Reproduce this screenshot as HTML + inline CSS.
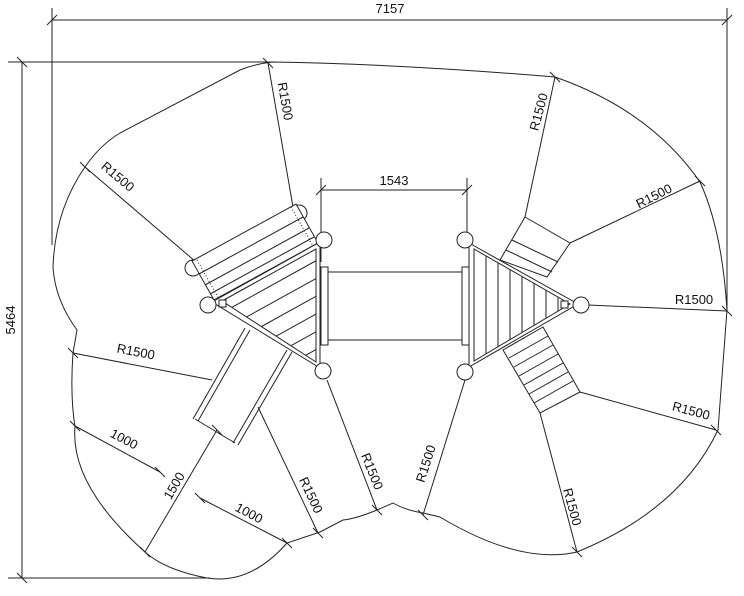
<!DOCTYPE html>
<html><head><meta charset="utf-8"><style>
html,body{margin:0;padding:0;background:#fff}
svg{display:block}
text{font-family:"Liberation Sans",sans-serif;font-size:13px;fill:#111}
</style></head><body>
<svg width="744" height="596" viewBox="0 0 744 596" xmlns="http://www.w3.org/2000/svg">
<defs>
<clipPath id="lt"><polygon points="222,301 316,249 316,362"/></clipPath>
<clipPath id="rt"><polygon points="474,249 570,304 474,361"/></clipPath>
</defs>
<g fill="none" stroke="#222" stroke-width="1">
<!-- overall dims -->
<line x1="52" y1="20" x2="727" y2="20"/>
<line x1="52" y1="8" x2="52" y2="245"/>
<line x1="727" y1="8" x2="727" y2="312"/>
<line x1="47" y1="25" x2="57" y2="15"/><line x1="722" y1="25" x2="732" y2="15"/>
<line x1="22" y1="62" x2="22" y2="578"/>
<line x1="8" y1="62" x2="272" y2="62"/>
<line x1="8" y1="578" x2="210" y2="578"/>
<line x1="17" y1="57" x2="27" y2="67"/><line x1="17" y1="573" x2="27" y2="583"/>
<!-- outline -->
<path d="M272,62 Q400,64 555,77 Q650,110 700,182 Q722,230 727,310 L718,430 Q680,510 577,552 Q520,565 440,517 L423,513 Q405,510 393,503 L377,510 Q355,519 343,520 L320,532 L287,543 Q250,585 207,578 Q165,570 145,552 Q70,485 75,427 Q70,395 73,353 L77,330 Q55,300 53,267 Q55,210 85,167 Q100,145 120,133 L240,70 Q255,64 272,62"/>
<!-- 1543 -->
<line x1="321" y1="190" x2="467" y2="190"/>
<line x1="321" y1="178" x2="321" y2="262"/><line x1="467" y1="178" x2="467" y2="235"/>
<line x1="316" y1="195" x2="326" y2="185"/><line x1="462" y1="195" x2="472" y2="185"/>
<!-- radial dims -->
<line x1="268" y1="63" x2="293" y2="207"/>
<line x1="85" y1="167" x2="196" y2="262"/>
<line x1="73" y1="353" x2="212" y2="380"/>
<line x1="75" y1="426" x2="160" y2="472"/>
<line x1="145" y1="552" x2="217" y2="430"/>
<line x1="200" y1="498" x2="287" y2="543"/>
<line x1="258" y1="407" x2="318" y2="533"/>
<line x1="327" y1="380" x2="377" y2="510"/>
<line x1="465" y1="380" x2="423" y2="515"/>
<line x1="540" y1="413" x2="577" y2="552"/>
<line x1="580" y1="392" x2="716" y2="430"/>
<line x1="588" y1="305" x2="727" y2="311"/>
<line x1="570" y1="243" x2="700" y2="181"/>
<line x1="525" y1="217" x2="555" y2="77"/>
<!-- ticks -->
<g>
<line x1="263" y1="58" x2="273" y2="68"/><line x1="80" y1="162" x2="90" y2="172"/><line x1="68" y1="348" x2="78" y2="358"/>
<line x1="70" y1="421" x2="80" y2="431"/><line x1="155" y1="467" x2="165" y2="477"/><line x1="140" y1="547" x2="150" y2="557"/>
<line x1="212" y1="425" x2="222" y2="435"/><line x1="195" y1="493" x2="205" y2="503"/><line x1="282" y1="538" x2="292" y2="548"/>
<line x1="313" y1="528" x2="323" y2="538"/><line x1="372" y1="505" x2="382" y2="515"/><line x1="418" y1="510" x2="428" y2="520"/>
<line x1="572" y1="547" x2="582" y2="557"/><line x1="711" y1="425" x2="721" y2="435"/><line x1="722" y1="306" x2="732" y2="316"/>
<line x1="695" y1="176" x2="705" y2="186"/><line x1="550" y1="72" x2="560" y2="82"/>
</g>
</g>
<!-- slide -->
<g fill="none" stroke="#222" stroke-width="1">
<line x1="245" y1="328" x2="193" y2="419"/><line x1="250" y1="330" x2="198" y2="421"/>
<line x1="287" y1="350" x2="233" y2="443"/><line x1="292" y1="352" x2="238" y2="445"/>
<line x1="195" y1="419" x2="235" y2="443"/>
</g>
<!-- tunnel -->
<g fill="#fff" stroke="#222" stroke-width="1">
<rect x="328" y="272" width="135" height="68"/>
<rect x="321" y="267" width="7" height="78"/>
<rect x="462" y="267" width="7" height="78"/>
</g>
<!-- left tower -->
<g stroke="#222" stroke-width="1" fill="#fff">
<circle cx="193" cy="268" r="8"/><circle cx="299" cy="213" r="8"/>
<polygon points="214,300 318,243 296,204 192,261"/>
<line x1="199" y1="274" x2="303" y2="217"/><line x1="205" y1="285" x2="309" y2="228"/><line x1="210" y1="294" x2="314" y2="237"/>
<line x1="197" y1="260" x2="219" y2="299" stroke-dasharray="1,2"/><line x1="291" y1="207" x2="313" y2="246" stroke-dasharray="1,2"/>
<polygon points="212,302 320,242 320,368"/>
<polygon points="222,301 316,249 316,362"/>
</g>
<g clip-path="url(#lt)" stroke="#222" stroke-width="1">
<line x1="200" y1="325" x2="330" y2="253"/><line x1="205" y1="340" x2="335" y2="268"/><line x1="210" y1="355" x2="340" y2="283"/>
<line x1="215" y1="370" x2="345" y2="298"/><line x1="220" y1="385" x2="350" y2="313"/><line x1="225" y1="400" x2="355" y2="328"/>
<line x1="222" y1="313" x2="316" y2="369"/>
</g>
<g stroke="#222" fill="#fff">
<circle cx="208" cy="305" r="8"/><circle cx="324" cy="240" r="8"/><circle cx="323" cy="371" r="8"/>
<rect x="219" y="300" width="7" height="7"/>
</g>
<!-- right tower -->
<g stroke="#222" stroke-width="1" fill="#fff">
<polygon points="500,260 525,217 570,243 547,277"/>
<line x1="512" y1="240" x2="558" y2="262"/><line x1="506" y1="250" x2="552" y2="272"/>
<polygon points="503,350 543,327 580,392 540,413"/>
<line x1="509" y1="358" x2="548" y2="336"/><line x1="514" y1="367" x2="553" y2="345"/><line x1="519" y1="376" x2="558" y2="354"/>
<line x1="524" y1="385" x2="563" y2="363"/><line x1="529" y1="394" x2="568" y2="372"/><line x1="534" y1="403" x2="573" y2="381"/>
<polygon points="469,243 578,304 469,367"/>
<polygon points="474,249 570,304 474,361"/>
</g>
<g clip-path="url(#rt)" stroke="#222" stroke-width="1">
<line x1="486" y1="240" x2="486" y2="370"/><line x1="498" y1="240" x2="498" y2="370"/><line x1="510" y1="240" x2="510" y2="370"/>
<line x1="522" y1="240" x2="522" y2="370"/><line x1="534" y1="240" x2="534" y2="370"/><line x1="546" y1="240" x2="546" y2="370"/>
<line x1="558" y1="240" x2="558" y2="370"/>
</g>
<g stroke="#222" fill="#fff">
<circle cx="465" cy="240" r="8"/><circle cx="581" cy="305" r="8"/><circle cx="465" cy="372" r="8"/>
<rect x="561" y="301" width="7" height="7"/>
</g>
<!-- labels -->
<text x="390" y="13" text-anchor="middle">7157</text>
<text x="394" y="185" text-anchor="middle">1543</text>
<text transform="translate(15,320) rotate(-90)" text-anchor="middle">5464</text>
<text transform="translate(281,102) rotate(80)" text-anchor="middle">R1500</text>
<text transform="translate(115,180) rotate(40)" text-anchor="middle">R1500</text>
<text transform="translate(135,356) rotate(11)" text-anchor="middle">R1500</text>
<text transform="translate(122,443) rotate(28)" text-anchor="middle">1000</text>
<text transform="translate(178,488) rotate(-60)" text-anchor="middle">1500</text>
<text transform="translate(247,517) rotate(28)" text-anchor="middle">1000</text>
<text transform="translate(307,497) rotate(65)" text-anchor="middle">R1500</text>
<text transform="translate(368,473) rotate(68)" text-anchor="middle">R1500</text>
<text transform="translate(430,465) rotate(-72)" text-anchor="middle">R1500</text>
<text transform="translate(568,508) rotate(75)" text-anchor="middle">R1500</text>
<text transform="translate(690,415) rotate(15)" text-anchor="middle">R1500</text>
<text x="694" y="304" text-anchor="middle">R1500</text>
<text transform="translate(656,200) rotate(-27)" text-anchor="middle">R1500</text>
<text transform="translate(543,113) rotate(-75)" text-anchor="middle">R1500</text>
</svg>
</body></html>
